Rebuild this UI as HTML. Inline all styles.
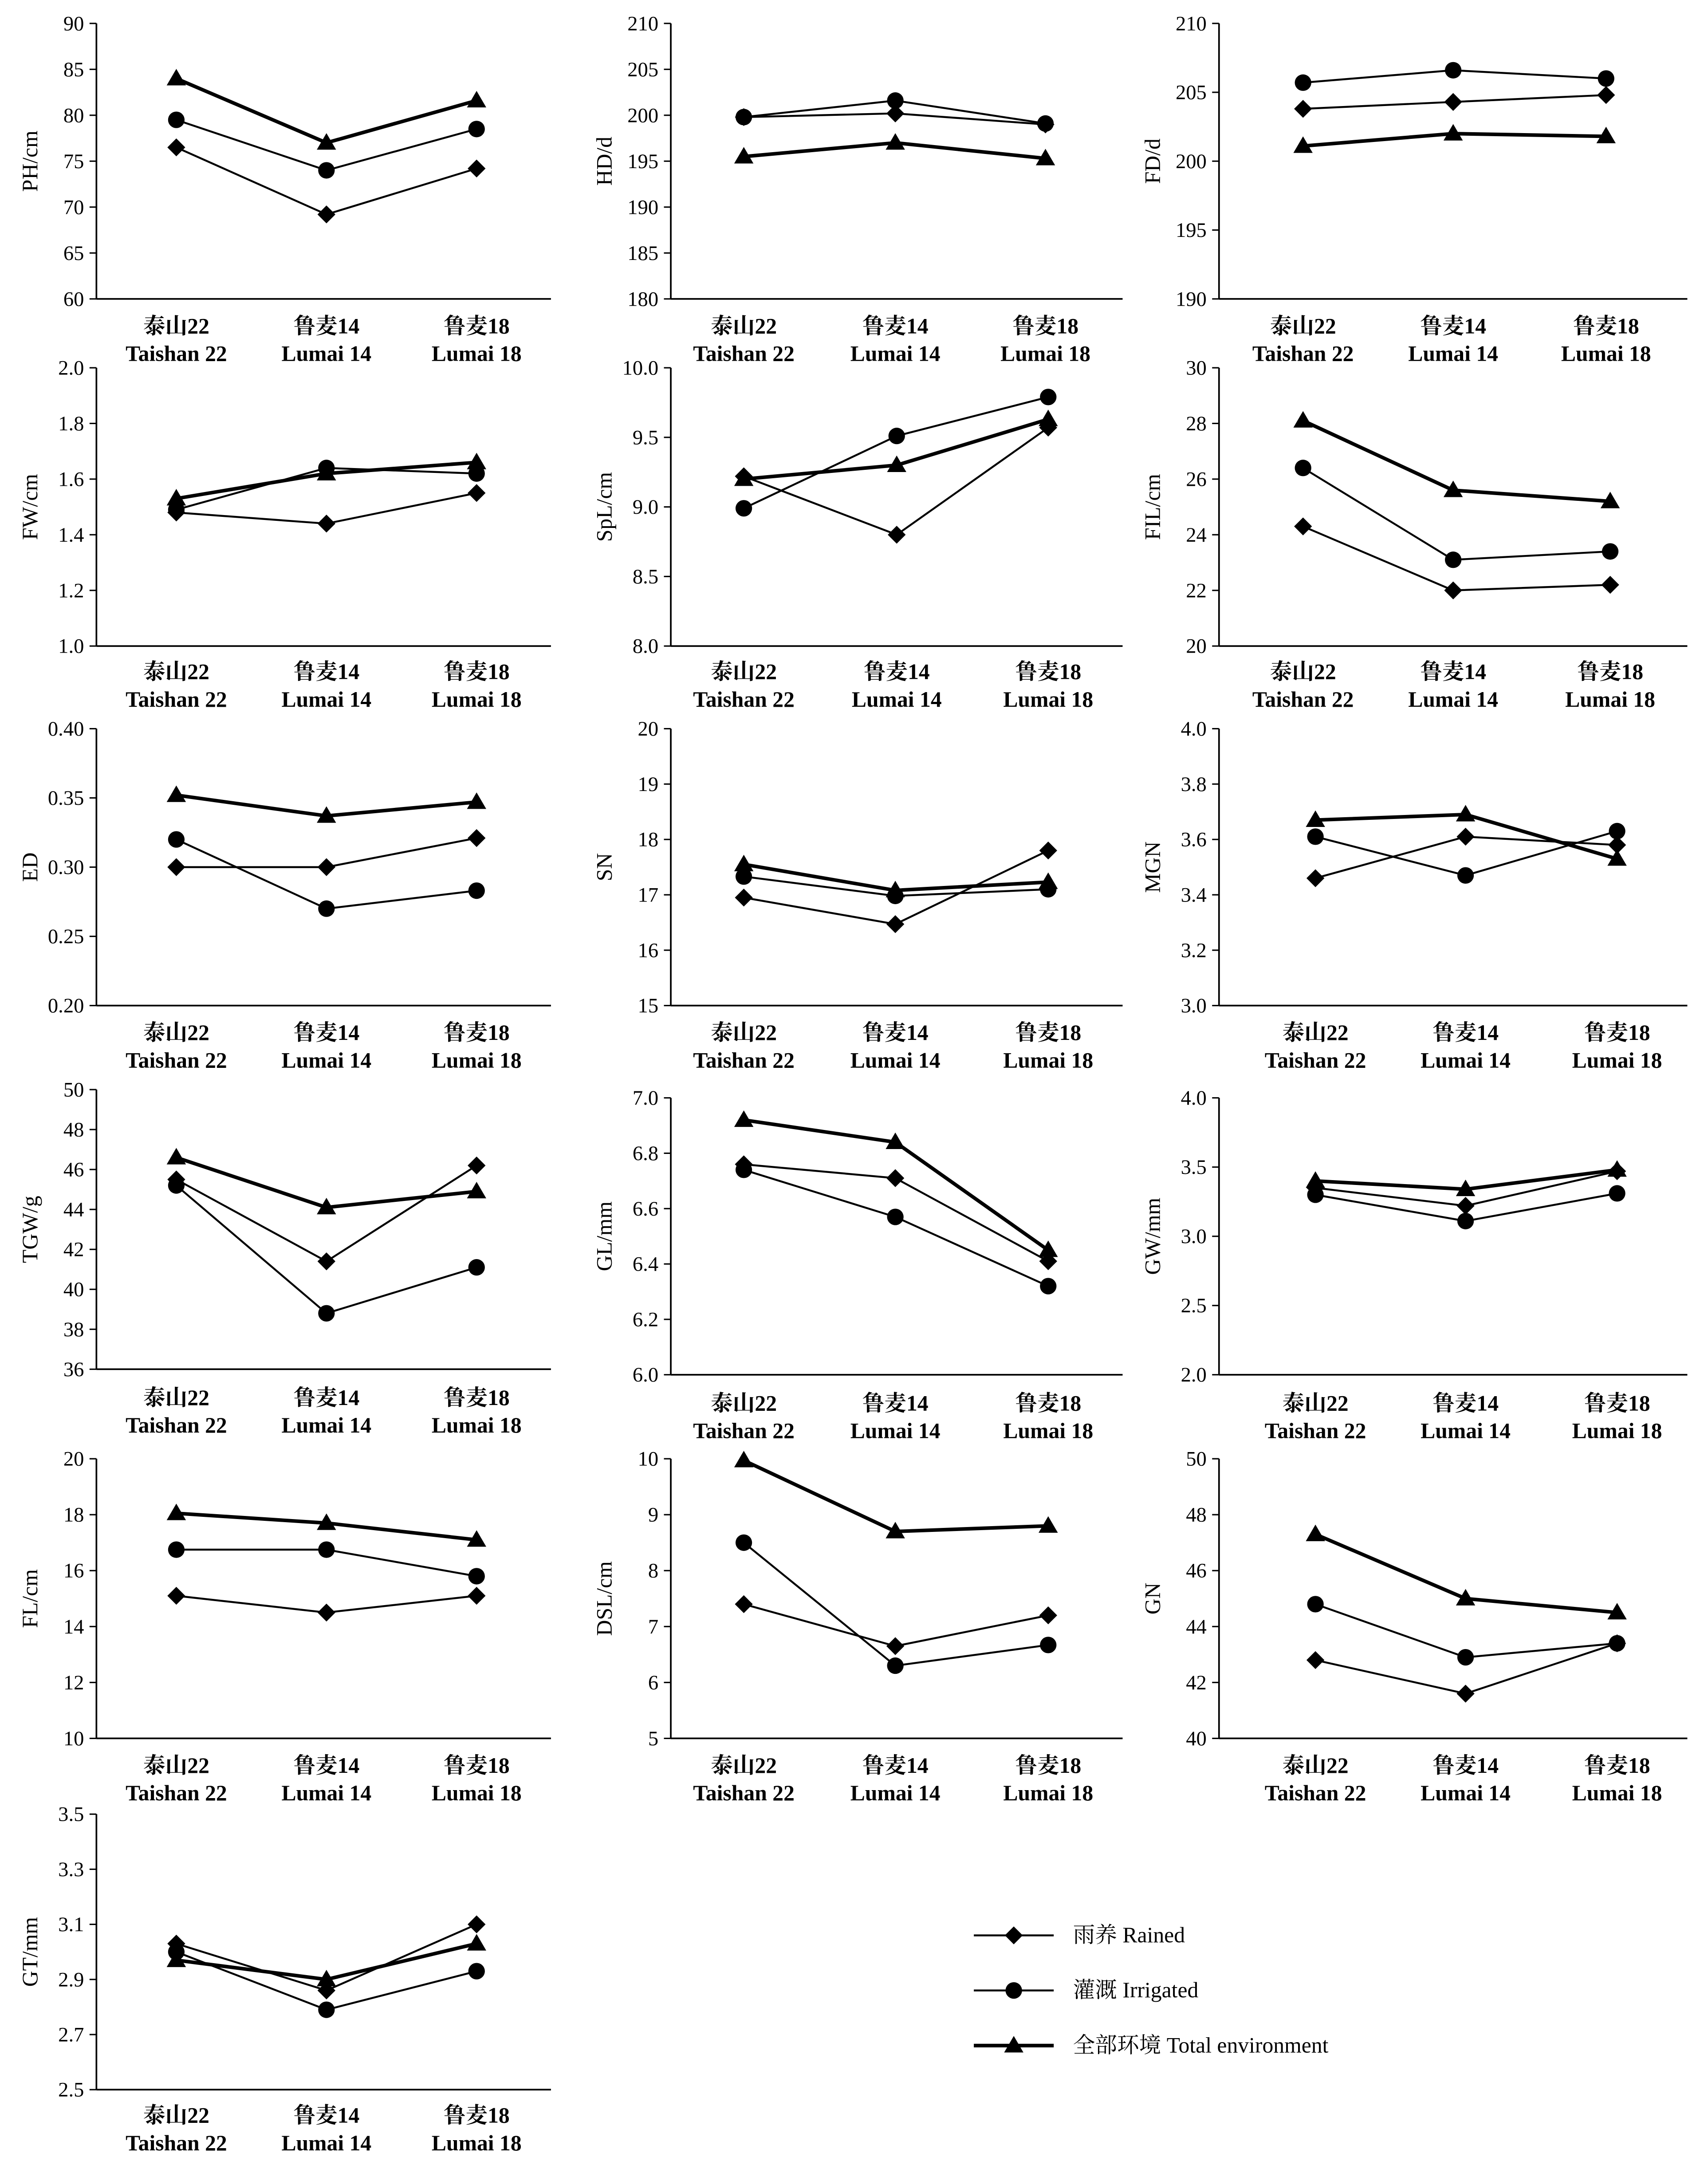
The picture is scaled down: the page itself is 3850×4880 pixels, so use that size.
<!DOCTYPE html>
<html><head><meta charset="utf-8"><style>
html,body{margin:0;padding:0;background:#fff}
svg{display:block}
text{font-family:"Liberation Serif","Noto Serif CJK SC","Noto Sans CJK SC",serif;fill:#000}
</style></head><body>
<svg id="s" width="3850" height="4880" viewBox="0 0 1240 1571.7" preserveAspectRatio="none" xmlns="http://www.w3.org/2000/svg"></svg>
<script>
const P=[
{ax:70,t:17,b:217,xe:400,xs:[128,237,346],mn:60,mx:90,st:5,d:0,lab:"PH/cm",ly:236,R:[76.5,69.2,74.2],I:[79.5,74,78.5],T:[84,77,81.6]},
{ax:487,t:17,b:217,xe:815,xs:[540,650,759],mn:180,mx:210,st:5,d:0,lab:"HD/d",ly:236,R:[199.8,200.2,199],I:[199.8,201.6,199.1],T:[195.5,197,195.3]},
{ax:885,t:17,b:217,xe:1225,xs:[946,1055,1166],mn:190,mx:210,st:5,d:0,lab:"FD/d",ly:236,R:[203.8,204.3,204.8],I:[205.7,206.6,206],T:[201.1,202,201.8]},
{ax:70,t:267,b:469,xe:400,xs:[128,237,346],mn:1,mx:2,st:0.2,d:1,lab:"FW/cm",ly:487,R:[1.48,1.44,1.55],I:[1.49,1.64,1.62],T:[1.53,1.62,1.66]},
{ax:487,t:267,b:469,xe:815,xs:[540,651,761],mn:8,mx:10,st:0.5,d:1,lab:"SpL/cm",ly:487,R:[9.22,8.8,9.57],I:[8.99,9.51,9.79],T:[9.2,9.3,9.63]},
{ax:885,t:267,b:469,xe:1225,xs:[946,1055,1169],mn:20,mx:30,st:2,d:0,lab:"FIL/cm",ly:487,R:[24.3,22,22.2],I:[26.4,23.1,23.4],T:[28.1,25.6,25.2]},
{ax:70,t:529,b:730,xe:400,xs:[128,237,346],mn:0.2,mx:0.4,st:0.05,d:2,lab:"ED",ly:749,R:[0.3,0.3,0.321],I:[0.32,0.27,0.283],T:[0.352,0.337,0.347]},
{ax:487,t:529,b:730,xe:815,xs:[540,650,761],mn:15,mx:20,st:1,d:0,lab:"SN",ly:749,R:[16.95,16.47,17.8],I:[17.33,16.98,17.1],T:[17.55,17.08,17.23]},
{ax:885,t:529,b:730,xe:1225,xs:[955,1064,1174],mn:3,mx:4,st:0.2,d:1,lab:"MGN",ly:749,R:[3.46,3.61,3.58],I:[3.61,3.47,3.63],T:[3.67,3.69,3.53]},
{ax:70,t:791,b:994,xe:400,xs:[128,237,346],mn:36,mx:50,st:2,d:0,lab:"TGW/g",ly:1014,R:[45.5,41.4,46.2],I:[45.2,38.8,41.1],T:[46.6,44.1,44.9]},
{ax:487,t:797,b:998,xe:815,xs:[540,650,761],mn:6,mx:7,st:0.2,d:1,lab:"GL/mm",ly:1018,R:[6.76,6.71,6.41],I:[6.74,6.57,6.32],T:[6.92,6.84,6.45]},
{ax:885,t:797,b:998,xe:1225,xs:[955,1064,1174],mn:2,mx:4,st:0.5,d:1,lab:"GW/mm",ly:1018,R:[3.35,3.22,3.47],I:[3.3,3.11,3.31],T:[3.4,3.34,3.48]},
{ax:70,t:1059,b:1262,xe:400,xs:[128,237,346],mn:10,mx:20,st:2,d:0,lab:"FL/cm",ly:1281,R:[15.1,14.5,15.1],I:[16.75,16.75,15.8],T:[18.05,17.7,17.1]},
{ax:487,t:1059,b:1262,xe:815,xs:[540,650,761],mn:5,mx:10,st:1,d:0,lab:"DSL/cm",ly:1281,R:[7.4,6.65,7.2],I:[8.5,6.3,6.67],T:[9.97,8.7,8.8]},
{ax:885,t:1059,b:1262,xe:1225,xs:[955,1064,1174],mn:40,mx:50,st:2,d:0,lab:"GN",ly:1281,R:[42.8,41.6,43.4],I:[44.8,42.9,43.4],T:[47.3,45,44.5]},
{ax:70,t:1317,b:1517,xe:400,xs:[128,237,346],mn:2.5,mx:3.5,st:0.2,d:1,lab:"GT/mm",ly:1535,R:[3.03,2.86,3.1],I:[3.0,2.79,2.93],T:[2.97,2.9,3.03]}
];
const cn=["泰山22","鲁麦14","鲁麦18"],en=["Taishan 22","Lumai 14","Lumai 18"];
let h="";
function mk(type,x,y){
 if(type=="R")return `<polygon points="${x},${y-6.5} ${x+6.5},${y} ${x},${y+6.5} ${x-6.5},${y}"/>`;
 if(type=="I")return `<circle cx="${x}" cy="${y}" r="6"/>`;
 return `<polygon points="${x},${y-7} ${x+7},${y+5} ${x-7},${y+5}"/>`;
}
for(const p of P){
 const Y=v=>p.b-(v-p.mn)/(p.mx-p.mn)*(p.b-p.t);
 h+=`<line x1="${p.ax}" y1="${p.t}" x2="${p.ax}" y2="${p.b}" stroke="#000" stroke-width="1.2"/>`;
 h+=`<line x1="${p.ax}" y1="${p.b}" x2="${p.xe}" y2="${p.b}" stroke="#000" stroke-width="1.2"/>`;
 const n=Math.round((p.mx-p.mn)/p.st);
 for(let i=0;i<=n;i++){const v=p.mn+i*p.st,y=Y(v);
  h+=`<line x1="${p.ax-5}" y1="${y}" x2="${p.ax}" y2="${y}" stroke="#000"/>`;
  h+=`<text x="${p.ax-9}" y="${y+5}" font-size="15" text-anchor="end">${v.toFixed(p.d)}</text>`;}
 h+=`<text transform="translate(${p.ax-43},${(p.t+p.b)/2}) rotate(-90)" font-size="16" text-anchor="middle">${p.lab}</text>`;
 for(let i=0;i<3;i++){
  h+=`<text x="${p.xs[i]}" y="${p.ly+6}" font-size="16" font-weight="bold" text-anchor="middle">${cn[i]}</text>`;
  h+=`<text x="${p.xs[i]}" y="${p.ly+26}" font-size="16" font-weight="bold" text-anchor="middle">${en[i]}</text>`;}
 for(const k of ["R","I","T"]){
  const pts=p[k].map((v,i)=>p.xs[i]+","+Y(v)).join(" ");
  h+=`<polyline points="${pts}" fill="none" stroke="#000" stroke-width="${k=="T"?2.6:1.4}"/>`;
  p[k].forEach((v,i)=>h+=mk(k,p.xs[i],Y(v)));
 }
}
const L=[["R","雨养 Rained",1405],["I","灌溉 Irrigated",1445],["T","全部环境 Total environment",1485]];
for(const [k,t,y] of L){
 h+=`<line x1="707" y1="${y}" x2="765" y2="${y}" stroke="#000" stroke-width="${k=="T"?2.6:1.4}"/>`+mk(k,736,y);
 h+=`<text x="779" y="${y+5}" font-size="16">${t}</text>`;
}
document.getElementById("s").innerHTML=h;
</script>
</body></html>
